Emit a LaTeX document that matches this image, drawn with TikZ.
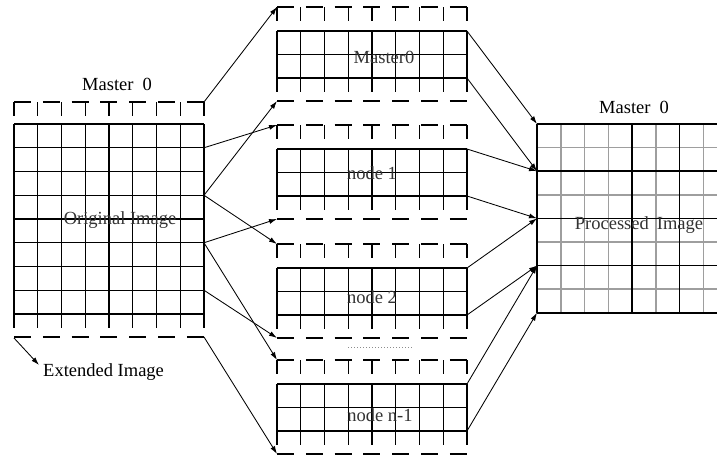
\documentclass[tikz,border=0pt]{standalone}
\usepackage{fontspec}
\setmainfont{Liberation Serif}
\usetikzlibrary{arrows.meta}
\newcommand\midblk[1]{%
  \draw[dashline] (277,#1) -- (467,#1);
  \foreach \i in {0,...,8} \draw[gridline] ({277+\i*23.75},#1) -- ++(0,14);
  \foreach \j in {0,1,2} \draw[gridline] (277,{#1+24+\j*23.5}) -- (467,{#1+24+\j*23.5});
  \foreach \i in {0,...,8} \draw[gridline] ({277+\i*23.75},{#1+24}) -- ({277+\i*23.75},{#1+85});
  \draw[dashline] (277,{#1+94}) -- (467,{#1+94});
}
\begin{document}
\begin{tikzpicture}[x=1pt,y=-1pt,
  gridline/.style={line width=1.45pt, black},
  softline/.style={line width=1.5pt, black!38},
  dashline/.style={line width=1.45pt, black, dash pattern=on 17pt off 11.83pt},
  arr/.style={line width=0.85pt, -{Latex[length=8pt,width=5pt]}},
  lbl/.style={font=\fontsize{18.5}{20}\selectfont, inner sep=0pt, text=black},
  inlbl/.style={lbl, text=black!80},
]
\useasboundingbox (0,0) rectangle (717,455);
\begin{scope}
\clip (0,0) rectangle (717,455);
% ---- left block (original image) ----
\draw[dashline] (14,102) -- (204,102);
\foreach \i in {0,...,8} \draw[gridline] ({14+\i*23.75},102) -- ++(0,14);
\foreach \j in {0,...,8} \draw[gridline] (14,{124+\j*23.75}) -- (204,{124+\j*23.75});
\foreach \i in {0,...,8} \draw[gridline] ({14+\i*23.75},124) -- ({14+\i*23.75},328);
\draw[dashline] (14,337) -- (204,337);
% ---- middle blocks ----
\midblk{7}
\midblk{125}
\midblk{244}
\midblk{360}
\draw[line width=0.8pt, black!45, dash pattern=on 1.2pt off 1.8pt] (348,347) -- (413,347);
% ---- right block (processed image) ----
\foreach \j in {1,3,5,7} \draw[softline] (537,{124+\j*23.6}) -- (717,{124+\j*23.6});
\foreach \i in {1,2,3,5,7} \draw[softline] ({537+\i*23.75},124) -- ({537+\i*23.75},312.8);
\foreach \j in {0,2,4,6,8} \draw[gridline] (537,{124+\j*23.6}) -- (717,{124+\j*23.6});
\foreach \i in {0,4,6} \draw[gridline] ({537+\i*23.75},124) -- ({537+\i*23.75},312.8);
\end{scope}
% ---- labels ----
\node[lbl] (m0l) at (117,84) {Master\hspace{9pt}0};
\node[inlbl] (orig) at (120,220) {Original Image};
\node[lbl, anchor=west] (ext) at (43,372) {Extended Image};
\node[inlbl] (mm0) at (384,57) {Master0};
\node[inlbl] (n1) at (372,173) {node 1};
\node[inlbl] (n2) at (372,297) {node 2};
\node[inlbl] (nn) at (380,415) {node n-1};
\node[lbl] (m0r) at (634,107) {Master\hspace{9pt}0};
\node[inlbl] (proc) at (639,225) {Processed\hspace{8pt}Image};
% ---- coordinates ----
\coordinate (Ld) at (204,102);
\coordinate (L1) at (204,147.75);
\coordinate (L3) at (204,195.25);
\coordinate (L5) at (204,242.75);
\coordinate (L7) at (204,290.25);
\coordinate (Lb) at (204,337);
\coordinate (M0t) at (277,7);   \coordinate (M0b) at (277,101);
\coordinate (M1t) at (277,125); \coordinate (M1b) at (277,219);
\coordinate (M2t) at (277,244); \coordinate (M2b) at (277,338);
\coordinate (M3t) at (277,360); \coordinate (M3b) at (277,454);
\coordinate (S0a) at (467,31);  \coordinate (S0b) at (467,78);
\coordinate (S1a) at (467,149); \coordinate (S1b) at (467,196);
\coordinate (S2a) at (467,268); \coordinate (S2b) at (467,315);
\coordinate (S3a) at (467,384); \coordinate (S3b) at (467,431);
\coordinate (R0) at (537,124);
\coordinate (R2) at (537,171.2);
\coordinate (R4) at (537,218.4);
\coordinate (R6) at (537,265.6);
\coordinate (R8) at (537,312.8);
\coordinate (E0) at (14,338);
\coordinate (E1) at (39,365);
% ---- arrows ----
\draw[arr] (Ld) -- (M0t);
\draw[arr] (L3) -- (M0b);
\draw[arr] (L1) -- (M1t);
\draw[arr] (L5) -- (M1b);
\draw[arr] (L3) -- (M2t);
\draw[arr] (L7) -- (M2b);
\draw[arr] (L5) -- (M3t);
\draw[arr] (Lb) -- (M3b);
\draw[arr] (S0a) -- (R0);
\draw[arr] (S0b) -- (R2);
\draw[arr] (S1a) -- (R2);
\draw[arr] (S1b) -- (R4);
\draw[arr] (S2a) -- (R4);
\draw[arr] (S2b) -- (R6);
\draw[arr] (S3a) -- (R6);
\draw[arr] (S3b) -- (R8);
\draw[arr] (E0) -- (E1);
\end{tikzpicture}
\end{document}
